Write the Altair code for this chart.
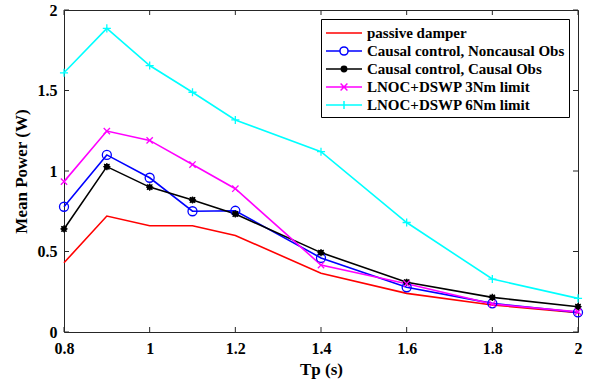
import altair as alt
import pandas as pd

Tp = [0.8, 0.9, 1.0, 1.1, 1.2, 1.4, 1.6, 1.8, 2.0]
series_names = [
    "passive damper",
    "Causal control, Noncausal Obs",
    "Causal control, Causal Obs",
    "LNOC+DSWP 3Nm limit",
    "LNOC+DSWP 6Nm limit",
]
passive = [0.43, 0.72, 0.66, 0.66, 0.60, 0.365, 0.24, 0.168, 0.12]
causal_noncausal = [0.778, 1.10, 0.958, 0.75, 0.753, 0.46, 0.278, 0.178, 0.122]
causal_causal = [0.64, 1.027, 0.90, 0.82, 0.733, 0.493, 0.309, 0.215, 0.157]
lnoc3 = [0.934, 1.248, 1.19, 1.04, 0.89, 0.416, 0.30, 0.174, 0.125]
lnoc6 = [1.61, 1.886, 1.655, 1.489, 1.317, 1.12, 0.68, 0.329, 0.209]

x_ticks = [0.8, 1.0, 1.2, 1.4, 1.6, 1.8, 2.0]
y_ticks = [0, 0.5, 1, 1.5, 2]

colors = ["#FF0000", "#0000FF", "#000000", "#FF00FF", "#00FFFF"]
fills = ["transparent", "transparent", "#000000", "transparent", "transparent"]
marker_paths = [
    "M0,0",
    "M1,0A1,1 0 1,1 -1,0A1,1 0 1,1 1,0Z",
    "M0.5,0A0.5,0.5 0 1,1 -0.5,0A0.5,0.5 0 1,1 0.5,0Z M-0.8,0L0.8,0M0,-0.8L0,0.8M-0.6,-0.6L0.6,0.6M-0.6,0.6L0.6,-0.6",
    "M-0.7,-0.7L0.7,0.7M-0.7,0.7L0.7,-0.7",
    "M-0.9,0L0.9,0M0,-0.9L0,0.9",
]
# legend glyphs: unit = 9 px, line spans -1..3 (36 px), marker centred at 1
legend_paths = [
    "M-1,0L3,0",
    "M-1,0L0.55,0M1.45,0L3,0M1.45,0A0.45,0.45 0 1,1 0.55,0A0.45,0.45 0 1,1 1.45,0",
    "M-1,0L3,0M1.3,0A0.3,0.3 0 1,1 0.7,0A0.3,0.3 0 1,1 1.3,0Z",
    "M-1,0L3,0M0.62,-0.38L1.38,0.38M0.62,0.38L1.38,-0.38",
    "M-1,0L3,0M1,-0.45L1,0.45",
]

rows = []
for name, vals in zip(series_names, [passive, causal_noncausal, causal_causal, lnoc3, lnoc6]):
    for t, v in zip(Tp, vals):
        rows.append({"series": name, "Tp": t, "power": v})
df = pd.DataFrame(rows)

W, H = 514, 322
FONT = "Liberation Serif"
TICK = "#262626"

xs = alt.Scale(domain=[0.8, 2.0], nice=False, zero=False)
ys = alt.Scale(domain=[0, 2], nice=False)

x_axis = alt.Axis(values=x_ticks, format="~g", title="Tp (s)", domain=False, ticks=False,
                  grid=False, labelPadding=8, titlePadding=5, labelFlush=False)
y_axis = alt.Axis(values=y_ticks, format="~g", title="Mean Power (W)", domain=False, ticks=False,
                  grid=False, labelPadding=7, titlePadding=7, labelFlush=False)

X = alt.X("Tp:Q", scale=xs, axis=x_axis)
Y = alt.Y("power:Q", scale=ys, axis=y_axis)

xt_df = pd.DataFrame({"Tp": x_ticks})
yt_df = pd.DataFrame({"power": y_ticks})

xt_bottom = alt.Chart(xt_df).mark_rule(color=TICK, strokeWidth=1).encode(
    x=X, y=alt.value(H), y2=alt.value(H - 5))
xt_top = alt.Chart(xt_df).mark_rule(color=TICK, strokeWidth=1).encode(
    x=X, y=alt.value(0), y2=alt.value(5))
yt_left = alt.Chart(yt_df).mark_rule(color=TICK, strokeWidth=1).encode(
    y=Y, x=alt.value(0), x2=alt.value(5))
yt_right = alt.Chart(yt_df).mark_rule(color=TICK, strokeWidth=1).encode(
    y=Y, x=alt.value(W), x2=alt.value(W - 5))

lines = alt.Chart(df).mark_line(strokeWidth=1.6).encode(
    x=X, y=Y,
    color=alt.Color("series:N", scale=alt.Scale(domain=series_names, range=colors), legend=None),
    order=alt.Order("Tp:Q"),
)

points = alt.Chart(df).transform_filter(
    alt.datum.series != "passive damper"
).mark_point(strokeWidth=1.3, opacity=1, size=81).encode(
    x=X, y=Y,
    stroke=alt.Stroke("series:N", scale=alt.Scale(domain=series_names, range=colors), legend=None),
    fill=alt.Fill("series:N", scale=alt.Scale(domain=series_names, range=fills), legend=None),
    shape=alt.Shape("series:N", scale=alt.Scale(domain=series_names, range=marker_paths), legend=None),
)

leg = alt.Legend(
    title=None, orient="top-right", offset=9, strokeColor="black", fillColor="white",
    padding=4, symbolSize=324, symbolStrokeWidth=1.5, symbolOpacity=1,
    labelFont=FONT, labelFontWeight="bold", labelFontSize=15, labelColor="black",
    labelOffset=22, rowPadding=0, labelLimit=0, cornerRadius=0,
)

legend_layer = alt.Chart(df).mark_point(opacity=0, size=324).encode(
    x=X, y=Y,
    stroke=alt.Stroke("series:N", scale=alt.Scale(domain=series_names, range=colors), legend=leg),
    fill=alt.Fill("series:N", scale=alt.Scale(domain=series_names, range=fills), legend=leg),
    shape=alt.Shape("series:N", scale=alt.Scale(domain=series_names, range=legend_paths), legend=leg),
)

chart = alt.layer(xt_bottom, xt_top, yt_left, yt_right, lines, points, legend_layer).resolve_scale(
    shape="independent", stroke="independent", fill="independent", color="independent"
).properties(
    width=W, height=H,
    padding={"left": 64, "top": 10, "right": 13, "bottom": 53},
    autosize=alt.AutoSizeParams(type="none"),
    background="white",
).configure_view(
    stroke=TICK, strokeWidth=1
).configure_axis(
    labelFont=FONT, labelFontWeight="bold", labelFontSize=16, labelColor="black",
    titleFont=FONT, titleFontWeight="bold", titleFontSize=17, titleColor="black",
)

chart.save("out.html", embed_options={"renderer": "svg", "actions": False})
